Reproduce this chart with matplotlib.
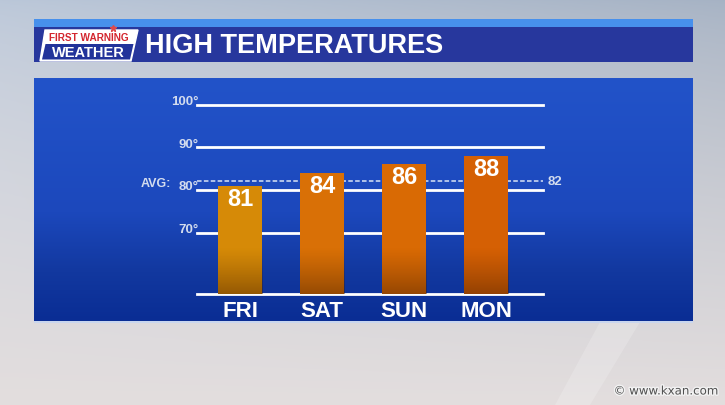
import numpy as np
import matplotlib.pyplot as plt
from matplotlib.patches import Rectangle, Polygon
from matplotlib.colors import LinearSegmentedColormap
import matplotlib.patheffects as pe

days = ['FRI', 'SAT', 'SUN', 'MON']
highs = [81, 84, 86, 88]
bar_colors = ['#D68A07', '#D97006', '#D96A04', '#D56004']
grid_temps = [70, 80, 90, 100]
grid_labels = ['70°', '80°', '90°', '100°']
avg_temp = 82
base_temp = 55.6

FONT = ['Liberation Sans', 'DejaVu Sans']
W, H = 725, 406

fig = plt.figure(figsize=(7.25, 4.06), dpi=100)

# full-figure layer for the broadcast graphics (pixel coords)
bg = fig.add_axes([0, 0, 1, 1])
bg.set_xlim(0, W)
bg.set_ylim(H, 0)
bg.axis('off')

# cloudy sky backdrop
ty = np.linspace(0, 1, 200)[:, None, None]
tx = np.linspace(0, 1, 300)[None, :, None]
top = np.array([0.68, 0.73, 0.80])
bot = np.array([0.89, 0.87, 0.87])
sky = top * (1 - ty ** 0.7) + bot * ty ** 0.7
sky = sky + 0.05 * (1 - tx) * (1 - ty) - 0.03 * tx * (1 - ty)
sky = np.clip(sky * np.ones((1, 300, 1)), 0, 1)
bg.imshow(sky, extent=[0, W, H, 0], aspect='auto', zorder=0)
bg.add_patch(Polygon([[555, 406], [600, 323], [640, 323], [590, 406]],
                     closed=True, color='white', alpha=0.18, lw=0, zorder=1))

# blue panel
panel_cmap = LinearSegmentedColormap.from_list(
    'panel', [(0, '#2253C9'), (0.55, '#1C48BC'), (0.8, '#12389F'), (1, '#0A2D94')])
bg.imshow(np.linspace(0, 1, 100)[:, None], cmap=panel_cmap,
          extent=[34, 693, 323, 79], aspect='auto', zorder=2)
bg.add_patch(Rectangle((34, 322), 659, 1.5, color='#C9D6EE', lw=0, zorder=2))

# header banner
bg.add_patch(Rectangle((34, 20), 659, 8, color='#4790EC', lw=0, zorder=2))
bg.add_patch(Rectangle((34, 28), 659, 35, color='#27379D', lw=0, zorder=2))

# logo
bg.add_patch(Polygon([[40, 62], [131, 62], [138, 31], [45, 31]], closed=True,
                     facecolor='white', edgecolor='white', lw=1, zorder=3))
bg.add_patch(Polygon([[42, 60.5], [130, 60.5], [133.5, 45], [45.5, 45]], closed=True,
                     facecolor='#22339A', lw=0, zorder=4))
bg.text(89, 38, 'FIRST WARNING', ha='center', va='center', color='#D3262E',
        fontsize=7.2, fontweight='bold', family=FONT, zorder=5)
bg.text(88, 53, 'WEATHER', ha='center', va='center', color='white',
        fontsize=10.5, fontweight='bold', family=FONT, zorder=5)
bg.plot([113], [28.5], marker='*', color='#E04A4A', ms=5, zorder=5)

bg.text(145, 46, 'HIGH TEMPERATURES', ha='left', va='center', color='white',
        fontsize=19.5, fontweight='bold', family=FONT, zorder=5)

# watermark
bg.text(718, 392, '© www.kxan.com', ha='right', va='center', fontsize=8.5,
        color='#505050', zorder=5,
        path_effects=[pe.withStroke(linewidth=2, foreground='#F2F2F2')])

# chart axes
ax = fig.add_axes([197 / W, 1 - 295 / H, 346 / W, 190 / H])
ax.patch.set_alpha(0)
xlim = (-0.524, 3.695)
ylim = (base_temp, 100.15)
x = np.arange(len(days))
bw = 0.537

for t in grid_temps + [base_temp]:
    ax.axhline(t, color='white', lw=2, zorder=1, clip_on=False)
ax.axhline(avg_temp, color='#D8E3F5', lw=1.1, ls=(0, (3, 1.5)), zorder=1.5)

bars = ax.bar(x, [h - base_temp for h in highs], bottom=base_temp, width=bw,
              color=bar_colors, linewidth=0, zorder=3)

# darker bottom of each bar
shade = np.zeros((100, 1, 4))
shade[..., 0] = 0.25
shade[..., 1] = 0.1
shade[..., 3] = np.linspace(0, 0.5, 100)[:, None] ** 1.2
for i, b in enumerate(bars):
    im = ax.imshow(shade, extent=[i - bw / 2, i + bw / 2, base_temp, 66.5],
                   origin='upper', aspect='auto', zorder=3.5)
    im.set_clip_path(b)

for i, h in enumerate(highs):
    ax.annotate(str(h), (i, h), xytext=(0, -9), textcoords='offset points',
                ha='center', va='center', color='white', fontsize=17,
                fontweight='bold', family=FONT, zorder=5)
    ax.annotate(days[i], (i, base_temp), xytext=(0, -12), textcoords='offset points',
                ha='center', va='center', color='white', fontsize=16,
                fontweight='bold', family=FONT, annotation_clip=False)

ytrans = ax.get_yaxis_transform()
for t, lab in zip(grid_temps, grid_labels):
    ax.annotate(lab, (0, t), xycoords=ytrans, xytext=(1.5, 0.5),
                textcoords='offset points', ha='right', va='baseline',
                color='#D3DCEE', fontsize=9.5, fontweight='bold', family=FONT,
                annotation_clip=False)
ax.annotate('AVG:', (0, avg_temp), xycoords=ytrans, xytext=(-19, -1),
            textcoords='offset points', ha='right', va='center',
            color='#D3DCEE', fontsize=9, fontweight='bold', family=FONT,
            annotation_clip=False)
ax.annotate(str(avg_temp), (1, avg_temp), xycoords=ytrans, xytext=(3, 0),
            textcoords='offset points', ha='left', va='center',
            color='#D3DCEE', fontsize=9.5, fontweight='bold', family=FONT,
            annotation_clip=False)

ax.set_xlim(*xlim)
ax.set_ylim(*ylim)
ax.axis('off')

fig.savefig('out.png', dpi=100)
